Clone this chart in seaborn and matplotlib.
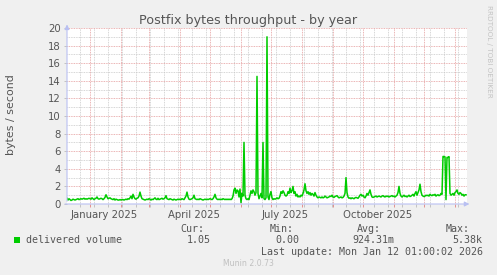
import numpy as np
import pandas as pd
import matplotlib
matplotlib.use("Agg")
import matplotlib.pyplot as plt
import matplotlib.dates as mdates
from matplotlib.ticker import MultipleLocator
import seaborn as sns

# ---------------- data (daily averages, bytes / second) ----------------
start_day = "2024-12-09"
values = [
    0.65, 0.45, 0.6, 0.5, 0.4, 0.45, 0.55, 0.5, 0.45, 0.5, 0.55, 0.6, 0.5, 0.55, 0.6, 0.55, 0.6, 0.65, 0.55, 0.6,
    0.55, 0.6, 0.65, 0.6, 0.55, 0.7, 0.6, 0.5, 0.6, 0.65, 0.8, 0.6, 0.55, 0.6, 0.65, 0.6, 0.5, 0.6, 0.75, 1.05,
    0.8, 0.6, 0.65, 0.7, 0.6, 0.55, 0.5, 0.6, 0.45, 0.55, 0.5, 0.45, 0.45, 0.5, 0.45, 0.5, 0.5, 0.45, 0.5, 0.55,
    0.5, 0.6, 0.55, 0.7, 0.9, 0.6, 1.1, 0.8, 0.6, 0.55, 0.65, 0.7, 0.9, 1.35, 0.9, 0.6, 0.55, 0.5, 0.45, 0.5,
    0.55, 0.5, 0.6, 0.55, 0.45, 0.55, 0.5, 0.6, 0.7, 0.55, 0.5, 0.65, 0.5, 0.55, 0.6, 0.65, 0.55, 0.6, 0.7, 0.95,
    0.6, 0.55, 0.5, 0.6, 0.55, 0.5, 0.45, 0.55, 0.5, 0.45, 0.5, 0.55, 0.5, 0.55, 0.5, 0.6, 0.55, 0.5, 0.7, 0.9,
    1.35, 0.8, 0.55, 0.5, 0.55, 0.6, 0.7, 1.0, 0.6, 0.55, 0.5, 0.55, 0.5, 0.6, 0.55, 0.5, 0.45, 0.5, 0.55, 0.5,
    0.55, 0.5, 0.55, 0.6, 0.55, 0.5, 0.6, 0.8, 1.1, 0.7, 0.55, 0.5, 0.55, 0.5, 0.55, 0.5, 0.6, 0.55, 0.5, 0.55,
    0.5, 0.55, 0.5, 0.55, 0.5, 0.6, 0.9, 1.6, 1.8, 1.2, 1.6, 1.5, 0.8, 1.7, 0.15, 1.2, 0.9, 7.0, 1.0, 0.6,
    0.5, 0.6, 0.5, 1.0, 1.5, 1.2, 1.6, 1.4, 1.0, 1.3, 14.5, 1.2, 0.6, 0.9, 1.2, 0.7, 7.0, 0.6, 0.5, 0.7,
    19.0, 0.8, 0.5, 1.1, 1.4, 0.7, 0.5, 0.6, 0.55, 0.6, 0.7, 0.6, 0.65, 0.9, 1.4, 1.2, 1.5, 1.3, 1.0, 0.9,
    1.0, 1.4, 1.2, 1.8, 1.3, 1.5, 2.0, 1.2, 1.4, 0.9, 1.1, 0.8, 0.9, 0.8, 1.0, 0.9, 1.2, 1.6, 2.3, 1.5,
    1.2, 1.4, 1.1, 1.3, 1.0, 1.2, 1.1, 0.9, 1.3, 1.0, 0.8, 0.7, 0.8, 0.75, 0.7, 0.8, 0.7, 0.75, 0.9, 0.8,
    0.7, 0.75, 0.8, 0.9, 0.85, 1.0, 0.8, 0.75, 0.85, 0.9, 0.95, 0.8, 0.7, 0.75, 0.8, 0.7, 0.75, 0.9, 1.2, 3.0,
    1.3, 0.8, 0.65, 0.7, 0.6, 0.7, 0.65, 0.6, 0.7, 0.75, 0.7, 0.65, 0.8, 1.0, 1.1, 0.9, 1.0, 0.8, 0.7, 0.9,
    1.2, 1.0, 1.3, 1.6, 1.1, 0.8, 0.75, 0.8, 0.85, 0.9, 0.8, 0.85, 0.9, 0.85, 0.8, 0.9, 0.95, 0.85, 0.8, 0.9,
    0.85, 0.9, 0.8, 0.85, 0.9, 0.95, 0.85, 0.9, 0.8, 0.9, 1.0, 1.3, 2.0, 1.2, 0.9, 0.8, 0.9, 1.0, 0.85, 0.9,
    0.8, 0.9, 1.0, 0.85, 0.9, 1.0, 1.1, 0.9, 1.2, 1.4, 1.0, 1.3, 1.6, 2.25, 1.4, 1.0, 0.9, 0.85, 0.9, 1.0,
    0.95, 1.0, 0.9, 1.1, 1.0, 0.95, 1.05, 1.0, 1.1, 0.9, 1.0, 1.05, 0.95, 1.0, 1.2, 1.1, 5.4, 5.4, 5.35, 0.5,
    5.3, 5.3, 5.38, 1.2, 1.0, 1.1, 1.2, 1.0, 1.3, 1.4, 1.6, 1.2, 1.1, 1.3, 1.2, 1.0, 1.1, 0.9, 1.05, 1.05,
]
series_name = "delivered volume"
title = "Postfix bytes throughput - by year"
ylabel = "bytes / second"
yticks = [0, 2, 4, 6, 8, 10, 12, 14, 16, 18, 20]
month_labels = ["January 2025", "April 2025", "July 2025", "October 2025"]
month_label_dates = ["2025-01-16", "2025-04-16", "2025-07-16", "2025-10-16"]
stats_heads = ["Cur:", "Min:", "Avg:", "Max:"]
stats_vals = ["1.05", "0.00", "924.31m", "5.38k"]
last_update = "Last update: Mon Jan 12 01:00:02 2026"
footer = "Munin 2.0.73"

# ---------------- frame ----------------
df = pd.DataFrame({
    "date": pd.date_range(start_day, periods=len(values), freq="D") + pd.Timedelta(hours=12),
    "value": values,
})
x_start = pd.Timestamp("2024-12-09 12:00")
x_end = pd.Timestamp("2026-01-13 12:00")

W, H = 497, 275
fig = plt.figure(figsize=(W / 100, H / 100), dpi=100, facecolor="#F0F0F0")
ax = fig.add_axes([67 / W, (H - 204) / H, (467 - 67) / W, (204 - 28) / H])
ax.set_facecolor("white")

sns.lineplot(data=df, x="date", y="value", ax=ax, color="#00CC00", linewidth=1.1, zorder=3)

ax.set_xlim(x_start, x_end)
ax.set_ylim(0, 20)
for s in ax.spines.values():
    s.set_visible(False)

# grids
ax.set_yticks(yticks)
ax.yaxis.set_minor_locator(MultipleLocator(1))
ax.xaxis.set_major_locator(mdates.MonthLocator())
ax.set_xticks(pd.date_range("2024-12-22", "2026-01-12", freq="14D"), minor=True)
ax.set_axisbelow(True)
ax.grid(which="minor", color="#c8c8c8", linestyle=(0, (1, 1)), linewidth=0.6)
ax.grid(which="major", color="#e49a9a", linestyle=(0, (1, 1)), linewidth=0.6)

ax.set_xticklabels([])
ax.set_xlabel("")
ax.set_ylabel("")
ax.tick_params(axis="x", which="major", length=2.5, color="#e08080", width=0.6)
ax.tick_params(axis="x", which="minor", length=2.0, color="#bbbbbb", width=0.6)
ax.tick_params(axis="y", which="major", length=2.5, color="#bbbbbb", width=0.6,
               labelsize=7.3, labelcolor="#555555", pad=2)
ax.tick_params(axis="y", which="minor", length=0)
ax.set_yticklabels([str(v) for v in yticks], family="DejaVu Sans")

for lab, d in zip(month_labels, month_label_dates):
    ax.annotate(lab, xy=(mdates.date2num(pd.Timestamp(d)), 0), xycoords=("data", "axes fraction"),
                xytext=(0, -4.5), textcoords="offset points", ha="center", va="top",
                fontsize=7.3, color="#555555", family="DejaVu Sans")

# axis arrows
arrow_c = "#b9c0f2"
ax.annotate("", xy=(0, 1.036), xytext=(0, 0), xycoords="axes fraction",
            arrowprops=dict(arrowstyle="-|>", color=arrow_c, lw=0.8, mutation_scale=7), zorder=4)
ax.annotate("", xy=(1.013, 0), xytext=(-0.012, 0), xycoords="axes fraction",
            arrowprops=dict(arrowstyle="-|>", color=arrow_c, lw=0.8, mutation_scale=7), zorder=4)

# texts
txt = "#555555"
fig.text(248.5 / W, 1 - 24 / H, title, ha="center", va="baseline", fontsize=9.2, color=txt,
         family="DejaVu Sans")
fig.text(11 / W, 1 - 115 / H, ylabel, rotation=90, ha="center", va="center", fontsize=7.9,
         color=txt, family="DejaVu Sans")
fig.text(489 / W, 1 - 5 / H, "RRDTOOL / TOBI OETIKER", rotation=270, ha="center", va="top",
         fontsize=5.2, color="#c4c4c4", family="DejaVu Sans")

mono = "DejaVu Sans Mono"
fs = 7.2
fig.patches.append(plt.Rectangle((14 / W, 1 - 242.7 / H), 6 / W, 6 / H, transform=fig.transFigure,
                                 facecolor="#00CC00", edgecolor="none"))
fig.text(26 / W, 1 - 243 / H, series_name, ha="left", va="baseline", fontsize=fs, family=mono, color=txt)
head_right = [204, 293.3, 381, 470]
val_right = [210.7, 299.3, 394, 482.7]
for h, v, hr, vr in zip(stats_heads, stats_vals, head_right, val_right):
    fig.text(hr / W, 1 - 231.5 / H, h, ha="right", va="baseline", fontsize=fs, family=mono, color=txt)
    fig.text(vr / W, 1 - 243 / H, v, ha="right", va="baseline", fontsize=fs, family=mono, color=txt)
fig.text(482.7 / W, 1 - 255 / H, last_update, ha="right", va="baseline", fontsize=fs, family=mono, color=txt)
fig.text(248 / W, 1 - 266.5 / H, footer, ha="center", va="baseline", fontsize=5.6, color="#c0c0c0",
         family="DejaVu Sans")

fig.savefig("out.png", dpi=100, facecolor=fig.get_facecolor())
